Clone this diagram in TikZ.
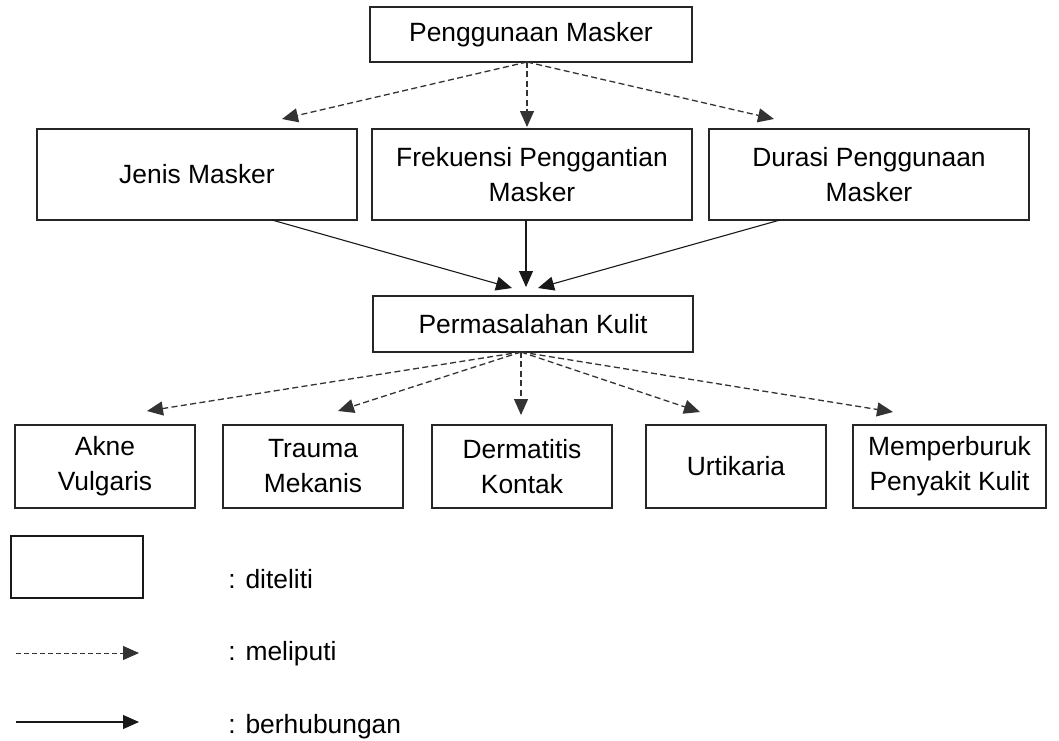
\documentclass[tikz,border=0pt]{standalone}
\usepackage{fontspec}
\setmainfont{Liberation Sans}
\usetikzlibrary{arrows.meta}
\tikzset{
kotak/.style = { rectangle, draw = black!85, fill = white, line width = 0.6pt, align = center, inner sep = 0pt, font = \fontsize{13.2}{17.5}\selectfont },
kotak atas/.style = { kotak, minimum width = 160pt, minimum height = 45.5pt },
kotak bawah/.style = { kotak, minimum width = 90pt, minimum height = 41.5pt },
meliputi/.style = { draw = black!80, line width = 0.65pt, dash pattern = on 3pt off 1.7pt, -{Triangle[length = 8pt, width = 7pt]} },
berhubungan/.style = { draw = black!90, line width = 0.55pt, -{Triangle[length = 8pt, width = 7pt]} },
keterangan/.style = { anchor = base west, inner sep = 0pt, font = \fontsize{13.2}{17.5}\selectfont },
}

\begin{document}
\begin{tikzpicture}[x = 0.5pt, y = -0.5pt]
    \useasboundingbox (0, 0) rectangle (1059, 740);
    % kotak
    \node[kotak, minimum width = 161pt, minimum height = 27.5pt] (guna) at (531, 34.5) {Penggunaan Masker};
    \node[kotak atas] (jenis) at (197, 174.5) {Jenis Masker};
    \node[kotak atas] (frek) at (532, 174.5) {Frekuensi Penggantian\\Masker};
    \node[kotak atas] (durasi) at (869, 174.5) {Durasi Penggunaan\\Masker};
    \node[kotak, minimum width = 160pt, minimum height = 28pt] (masalah) at (533, 324) {Permasalahan Kulit};
    \node[kotak bawah] (akne) at (105, 466.5) {Akne\\Vulgaris};
    \node[kotak bawah] (trauma) at (313, 466.5) {Trauma\\Mekanis};
    \node[kotak bawah] (derm) at (522, 466.5) {Dermatitis\\Kontak};
    \node[kotak bawah] (urtik) at (736, 466.5) {Urtikaria};
    \node[kotak bawah, minimum width = 96.5pt] (memp) at (949.5, 466.5) {Memperburuk\\Penyakit Kulit};
    % ujung panah
    \coordinate (guna-bawah) at (527, 62);
    \coordinate (ke-jenis) at (282, 119);
    \coordinate (ke-frek) at (527, 127);
    \coordinate (ke-durasi) at (774, 119);
    \coordinate (dari-jenis) at (272, 220);
    \coordinate (dari-frek) at (526, 220);
    \coordinate (dari-durasi) at (780, 220);
    \coordinate (ke-masalah-a) at (512, 288);
    \coordinate (ke-masalah-b) at (526, 287);
    \coordinate (ke-masalah-c) at (538, 288);
    \coordinate (masalah-bawah) at (521, 352);
    \coordinate (ke-akne) at (147, 411);
    \coordinate (ke-trauma) at (338, 411);
    \coordinate (ke-derm) at (521, 415);
    \coordinate (ke-urtik) at (700, 412);
    \coordinate (ke-memp) at (893, 412);
    \draw[meliputi] (guna-bawah) -- (ke-jenis);
    \draw[meliputi] (guna-bawah) -- (ke-frek);
    \draw[meliputi] (guna-bawah) -- (ke-durasi);
    \draw[berhubungan] (dari-jenis) -- (ke-masalah-a);
    \draw[berhubungan] (dari-frek) -- (ke-masalah-b);
    \draw[berhubungan] (dari-durasi) -- (ke-masalah-c);
    \draw[meliputi] (masalah-bawah) -- (ke-akne);
    \draw[meliputi] (masalah-bawah) -- (ke-trauma);
    \draw[meliputi] (masalah-bawah) -- (ke-derm);
    \draw[meliputi] (masalah-bawah) -- (ke-urtik);
    \draw[meliputi] (masalah-bawah) -- (ke-memp);
    % keterangan
    \node[draw = black!90, line width = 1pt, minimum width = 66pt, minimum height = 31pt, inner sep = 0pt] (contoh) at (76.5, 567) {};
    \node[keterangan] (teks-diteliti) at (228, 588) {: diteliti};
    \coordinate (putus-a) at (16, 653);
    \coordinate (putus-b) at (139, 653);
    \draw[meliputi, line width = 0.5pt, dash pattern = on 2.5pt off 1.5pt] (putus-a) -- (putus-b);
    \node[keterangan] (teks-meliputi) at (228, 660) {: meliputi};
    \coordinate (garis-a) at (16, 722);
    \coordinate (garis-b) at (139, 722);
    \draw[berhubungan] (garis-a) -- (garis-b);
    \node[keterangan] (teks-berhubungan) at (228, 733) {: berhubungan};
\end{tikzpicture}
\end{document}
